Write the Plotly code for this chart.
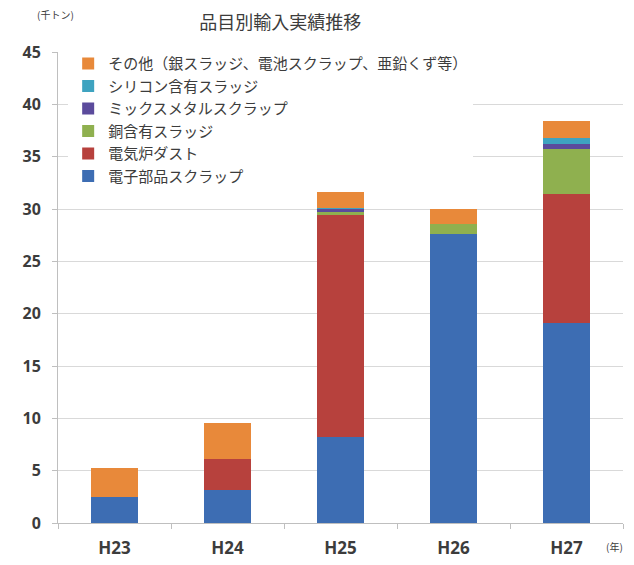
import plotly.graph_objects as go

YEARS = ["H23", "H24", "H25", "H26", "H27"]

# 千トン
DENSHI_BUHIN = [2.5, 3.2, 8.2, 27.6, 19.1]
DENKIRO_DUST = [0.0, 2.9, 21.2, 0.0, 12.3]
DOU_SLUDGE = [0.0, 0.0, 0.3, 1.0, 4.3]
MIX_METAL = [0.0, 0.0, 0.3, 0.0, 0.5]
SILICON_SLUDGE = [0.0, 0.0, 0.1, 0.0, 0.6]
SONOTA = [2.8, 3.5, 2.1, 1.4, 1.6]

SERIES = [
    ("電子部品スクラップ", DENSHI_BUHIN, "#3d6db3"),
    ("電気炉ダスト", DENKIRO_DUST, "#b7413d"),
    ("銅含有スラッジ", DOU_SLUDGE, "#8fb04f"),
    ("ミックスメタルスクラップ", MIX_METAL, "#5b4b9c"),
    ("シリコン含有スラッジ", SILICON_SLUDGE, "#3ea3c0"),
    ("その他（銀スラッジ、電池スクラップ、亜鉛くず等）", SONOTA, "#e8893a"),
]

FONT = "Noto Sans CJK JP, Open Sans, sans-serif"
TEXT = "#3c3c3c"

fig = go.Figure()
for name, vals, color in SERIES:
    fig.add_trace(go.Bar(
        x=YEARS, y=vals, name=name,
        marker=dict(color=color, line=dict(width=0)),
    ))

# the page body adds an 8px offset, so the figure is a bit smaller than the window
fig.update_layout(
    width=626, height=557,
    barmode="stack", bargap=0.59,
    paper_bgcolor="white", plot_bgcolor="white",
    margin=dict(l=50, r=11, t=44, b=42),
    font=dict(family=FONT, color=TEXT),
    title=dict(text="品目別輸入実績推移", x=0.435, xanchor="center",
               yref="container", y=0.985, yanchor="top",
               font=dict(size=18, color=TEXT)),
    legend=dict(
        x=0.018, y=1.01, xanchor="left", yanchor="top",
        traceorder="reversed", bgcolor="white",
        font=dict(size=15, color=TEXT),
        itemwidth=30, tracegroupgap=0,
    ),
    showlegend=True,
)

fig.update_yaxes(
    range=[0, 45], dtick=5, automargin=False,
    showgrid=True, gridcolor="#d9d9d9", gridwidth=1,
    showline=True, linecolor="#bfbfbf",
    ticks="outside", ticklen=5, tickcolor="#bfbfbf",
    ticklabelstandoff=8,
    tickfont=dict(family="Open Sans", size=16, color=TEXT, weight="bold"),
    zeroline=False,
)
fig.update_xaxes(
    automargin=False,
    showline=True, linecolor="#bfbfbf",
    ticks="outside", tickson="boundaries", ticklen=5, tickcolor="#bfbfbf",
    ticklabelstandoff=10,
    tickfont=dict(family="Open Sans", size=17, color=TEXT, weight="bold"),
)

fig.add_annotation(text="(千トン)", xref="paper", yref="paper", x=-0.005, y=1.079,
                   xanchor="center", yanchor="middle", showarrow=False,
                   font=dict(size=10, color=TEXT))
fig.add_annotation(text="(年)", xref="paper", yref="paper", x=0.985, y=-0.05,
                   xanchor="center", yanchor="middle", showarrow=False,
                   font=dict(size=10, color=TEXT))

fig.write_html("out.html")
